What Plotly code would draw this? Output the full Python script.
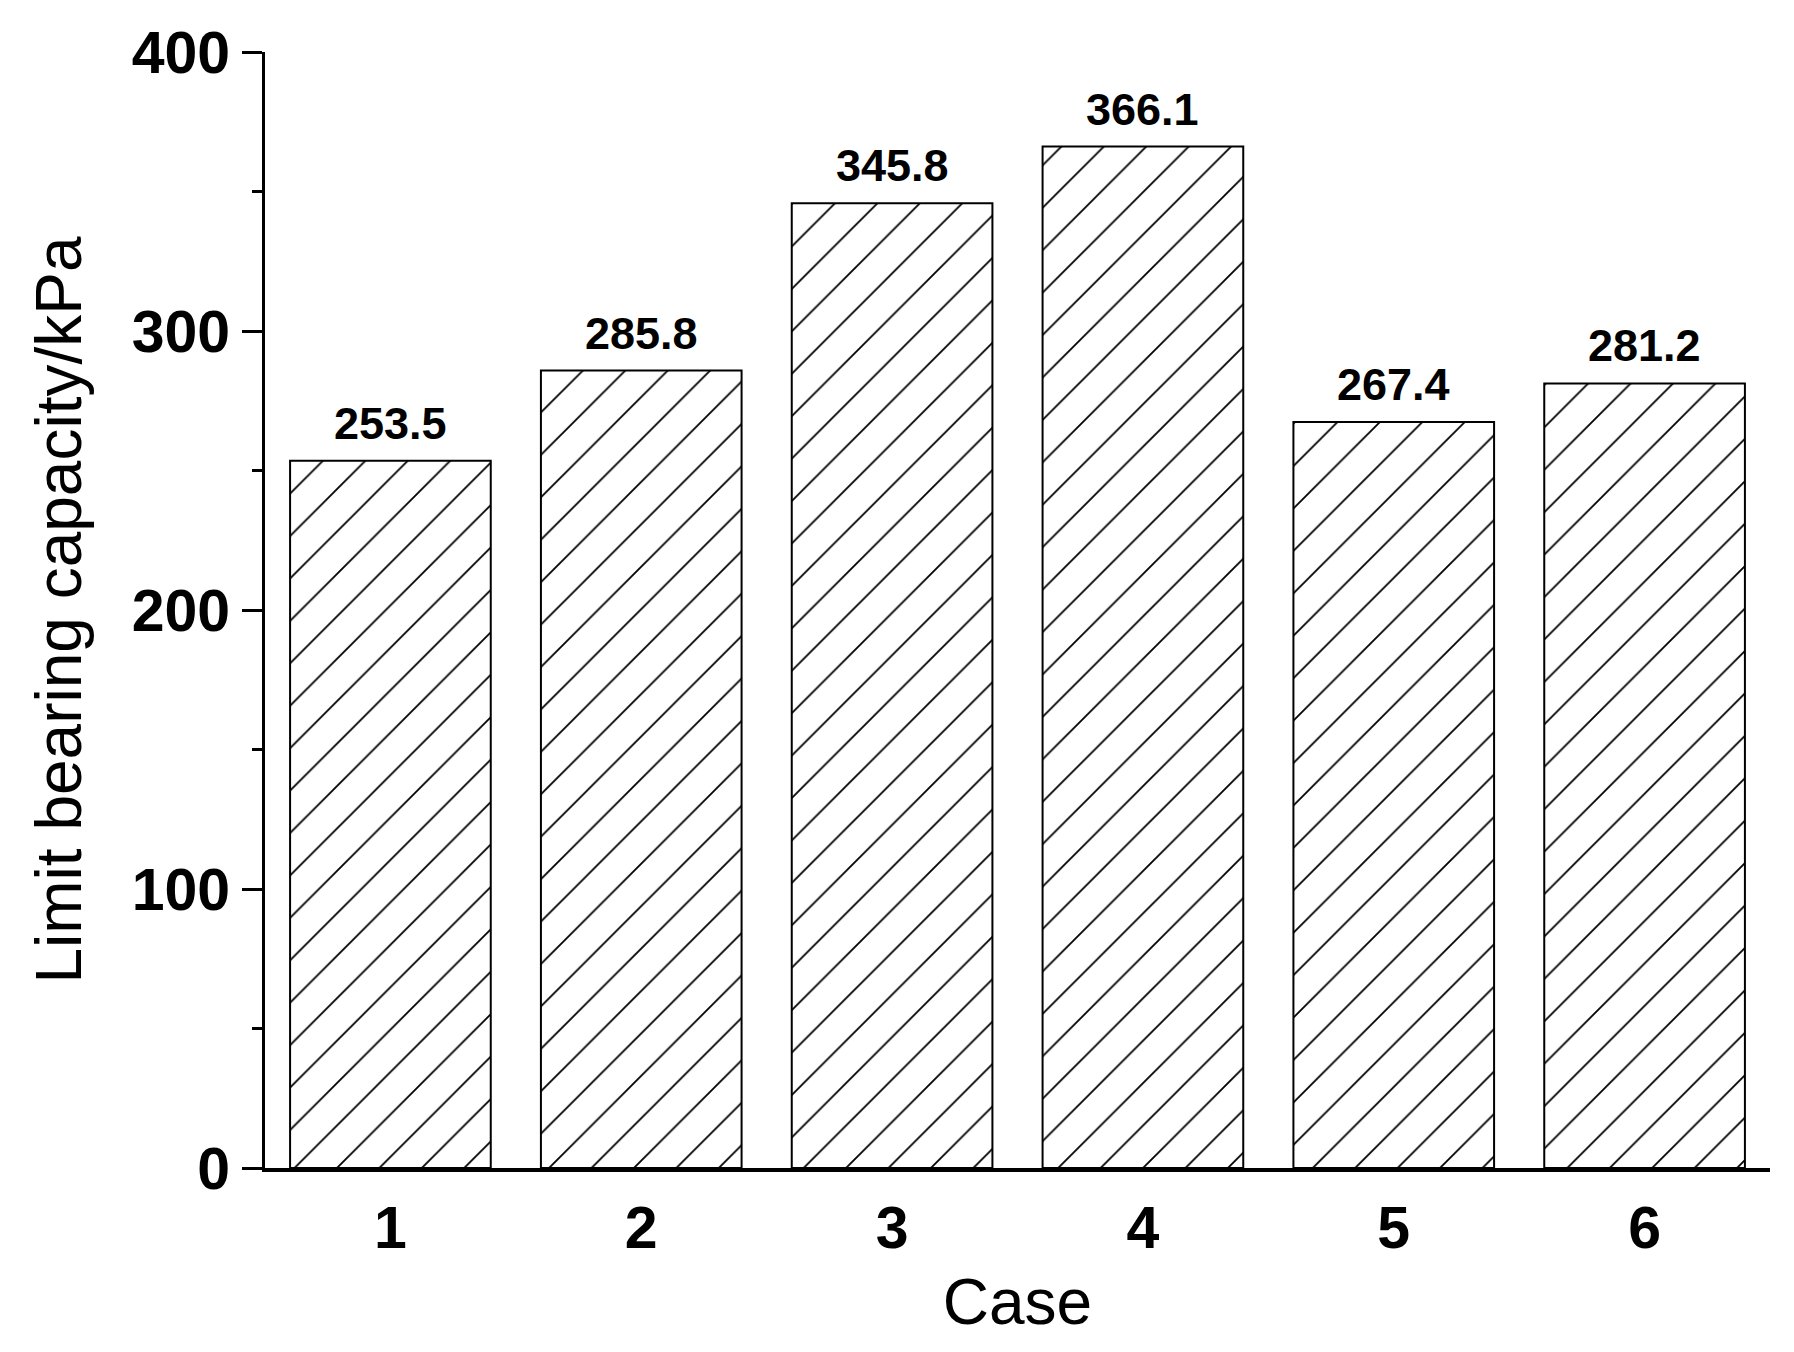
import plotly.graph_objects as go

cases = [1, 2, 3, 4, 5, 6]
capacity = [253.5, 285.8, 345.8, 366.1, 267.4, 281.2]
labels = ["253.5", "285.8", "345.8", "366.1", "267.4", "281.2"]

FONT = "Liberation Sans, Arial, sans-serif"

fig = go.Figure()

fig.add_trace(go.Bar(
    x=cases, y=capacity, width=0.8,
    marker=dict(
        color="white",
        line=dict(color="black", width=2),
        pattern=dict(shape="/", size=30, solidity=0.06,
                     fgcolor="black", bgcolor="white", fillmode="replace"),
    ),
    showlegend=False,
))

# value labels above the bars
for c, v, t in zip(cases, capacity, labels):
    fig.add_annotation(x=c, y=v, text=t, showarrow=False, yanchor="bottom",
                       yshift=10, font=dict(family=FONT, size=45, color="black", weight="bold"))

fig.update_xaxes(
    range=[0.5, 6.5], showline=True, linewidth=4, linecolor="black",
    ticks="", tickvals=cases, showgrid=False, zeroline=False,
    tickfont=dict(family=FONT, size=59, color="black", weight="bold"),
    ticklabelstandoff=5,
    title=dict(text="Case", font=dict(family=FONT, size=64, color="black"), standoff=20),
)
fig.update_yaxes(
    range=[0, 400], dtick=100, showline=True, linewidth=3, linecolor="black",
    ticks="outside", ticklen=20, tickwidth=3, tickcolor="black",
    minor=dict(ticks="outside", ticklen=10, tickwidth=3, dtick=50, tickcolor="black"),
    showgrid=False, zeroline=False,
    tickfont=dict(family=FONT, size=59, color="black", weight="bold"),
    title=dict(text="Limit bearing capacity/kPa", font=dict(family=FONT, size=64, color="black"), standoff=30),
)

# page body has an 8px margin, so the figure is sized/shifted to compensate
fig.update_layout(
    width=1786, height=1336,
    margin=dict(l=257, r=24, t=40, b=176),
    plot_bgcolor="white", paper_bgcolor="white",
    bargap=0.2,
)

fig.write_html("out.html")
